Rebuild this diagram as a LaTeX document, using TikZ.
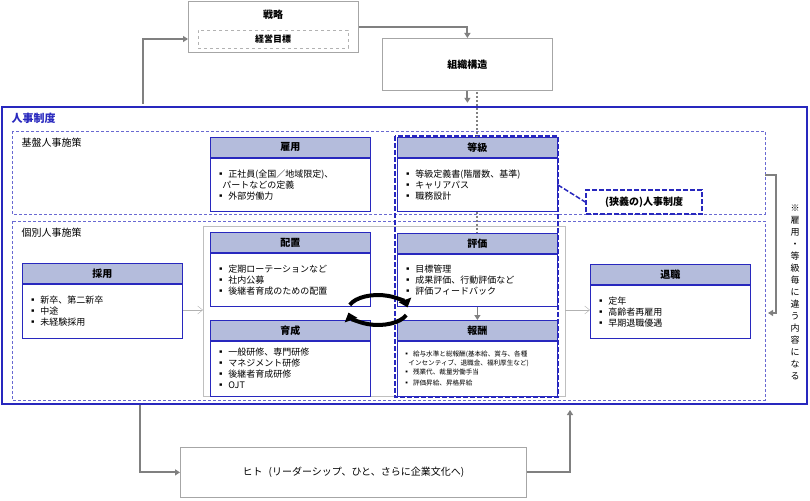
\documentclass[tikz,border=0pt]{standalone}
\usepackage{fontspec}
\newfontfamily\jp{Noto Sans CJK JP}
\usetikzlibrary{positioning,arrows.meta}
\definecolor{hdblue}{RGB}{180,188,220}
\definecolor{lnblue}{RGB}{40,40,190}
\tikzset{
  every node/.style={font=\jp\fontsize{9}{11}\selectfont},
  head/.style={draw=lnblue,fill=hdblue,thick,anchor=north west,minimum width=160pt,minimum height=20pt,inner sep=0pt,font=\jp\bfseries\fontsize{10}{12}\selectfont},
  body/.style={draw=lnblue,thick,fill=white,anchor=north,minimum width=160pt,text width=148pt,align=left,inner sep=0pt},
  plain/.style={draw=gray!70,fill=white,thick,anchor=north west,inner sep=0pt},
  flow/.style={draw=gray,line width=2pt,-{Triangle[length=5pt,width=6pt]}},
  thinflow/.style={draw=gray!60,-{Straight Barb[length=5pt,width=8pt]}},
  frame/.style={lnblue!70,dash pattern=on 3pt off 2pt},
}
\newcommand{\policybox}[6]{% name, x, y, title, body height, items
  \node[head] (#1h) at (#2,#3) {#4};
  \node[body,minimum height=#5pt] (#1) at (#1h.south) {#6};
}
\begin{document}
\begin{tikzpicture}[x=1pt,y=-1pt]
\useasboundingbox (0,0) rectangle (810,500);

% top: strategy and structure
\node[plain,minimum width=170pt,minimum height=51pt] (strat) at (188,1) {};
\node[font=\jp\bfseries\fontsize{10}{12}\selectfont] (stratt) at (273,15) {戦略};
\node[draw=gray!60,dashed,minimum width=150pt,minimum height=18pt,inner sep=0pt,font=\jp\bfseries\fontsize{9}{11}\selectfont] (goal) at (273,39) {経営目標};
\node[plain,minimum width=170pt,minimum height=52pt] (org) at (382,38) {};
\node[font=\jp\bfseries\fontsize{10}{12}\selectfont] at (org.center) {組織構造};

% personnel system frame
\draw[lnblue,line width=1.5pt] (2,107) rectangle (807,404);
\node[anchor=west,text=lnblue,font=\jp\bfseries\fontsize{11}{13}\selectfont] (sys) at (8,118) {人事制度};
\draw[frame] (12,131) rectangle (765,214);
\node[anchor=west,font=\jp\fontsize{10}{12}\selectfont] (base) at (18,143) {基盤人事施策};
\draw[frame] (12,221) rectangle (765,400);
\node[anchor=west,font=\jp\fontsize{10}{12}\selectfont] (indiv) at (18,233) {個別人事施策};
\draw[gray!50,thick] (203,226) rectangle (565,396);
\coordinate (grayl) at (203,310);
\coordinate (grayr) at (565,310);

% policy boxes
\policybox{hire}{210}{137}{雇用}{53}{▪ 正社員(全国／地域限定)、\\\hspace*{6pt}パートなどの定義\\▪ 外部労働力}
\policybox{grade}{397}{137}{等級}{53}{▪ 等級定義書(階層数、基準)\\▪ キャリアパス\\▪ 職務設計}
\policybox{recr}{22}{263}{採用}{54}{▪ 新卒、第二新卒\\▪ 中途\\▪ 未経験採用}
\policybox{place}{210}{232}{配置}{53}{▪ 定期ローテーションなど\\▪ 社内公募\\▪ 後継者育成のための配置}
\policybox{train}{210}{320}{育成}{55}{▪ 一般研修、専門研修\\▪ マネジメント研修\\▪ 後継者育成研修\\▪ OJT}
\policybox{eval}{397}{233}{評価}{52}{▪ 目標管理\\▪ 成果評価、行動評価など\\▪ 評価フィードバック}
\policybox{pay}{397}{320}{報酬}{55}{\fontsize{6.6}{9}\selectfont ▪ 給与水準と総報酬(基本給、賞与、各種\\\hspace*{5pt}インセンティブ、退職金、福利厚生など)\\▪ 残業代、裁量労働手当\\▪ 評価昇給、昇格昇給}
\policybox{retire}{590}{264}{退職}{53}{▪ 定年\\▪ 高齢者再雇用\\▪ 早期退職優遇}

% narrow-sense system
\draw[lnblue,line width=1.5pt,dash pattern=on 5pt off 2pt] (395,136) rectangle (558,397);
\node[draw=lnblue,line width=1.5pt,dash pattern=on 5pt off 2pt,minimum width=116pt,minimum height=24pt,font=\jp\bfseries\fontsize{10}{12}\selectfont] (narrow) at (644,202) {(狭義の)人事制度};
\draw[lnblue,line width=1.5pt,dash pattern=on 5pt off 2pt] (558,185) -- (narrow.west);

% connectors
\draw[flow] (143,104) |- (strat.west |- goal);
\draw[flow] (strat.east |- 0,27) -| (org.north);
\draw[flow] (org.south) -- ++(0,12);
\draw[gray,line width=2pt,dotted] (477,92) -- (gradeh.north -| 477,0);
\draw[gray,line width=2pt,dotted] (grade.south) -- (evalh.north);
\draw[flow,line width=1.5pt] (eval.south) -- (payh.north);
\draw[thinflow] (recr.east |- grayl) -- (grayl);
\draw[thinflow] (grayr) -- (retire.west |- grayr);

% rotation arrows
\draw[line width=4pt,-{Triangle[length=8pt,width=13pt]}] (378,310) ++(20:30 and 15) arc[start angle=20,end angle=170,x radius=30,y radius=15];
\draw[line width=4pt,-{Triangle[length=8pt,width=13pt]}] (378,310) ++(200:30 and 15) arc[start angle=200,end angle=350,x radius=30,y radius=15];

% right note
\coordinate (notetop) at (765,175);
\draw[flow] (notetop) -- ++(11,0) |- (768,313);
\node[align=center,inner sep=0pt,font=\jp\fontsize{9}{12}\selectfont] (note) at (795,292) {※\\雇\\用\\・\\等\\級\\毎\\に\\違\\う\\内\\容\\に\\な\\る};

% people
\node[plain,minimum width=346pt,minimum height=50pt] (people) at (180,447) {};
\node[font=\jp\fontsize{10}{12}\selectfont] at (people.center) {ヒト\hspace{6pt}(リーダーシップ、ひと、さらに企業文化へ)};
\draw[flow] (140,405) |- (people.west);
\draw[flow] (people.east) -| (570,410);
\end{tikzpicture}
\end{document}
